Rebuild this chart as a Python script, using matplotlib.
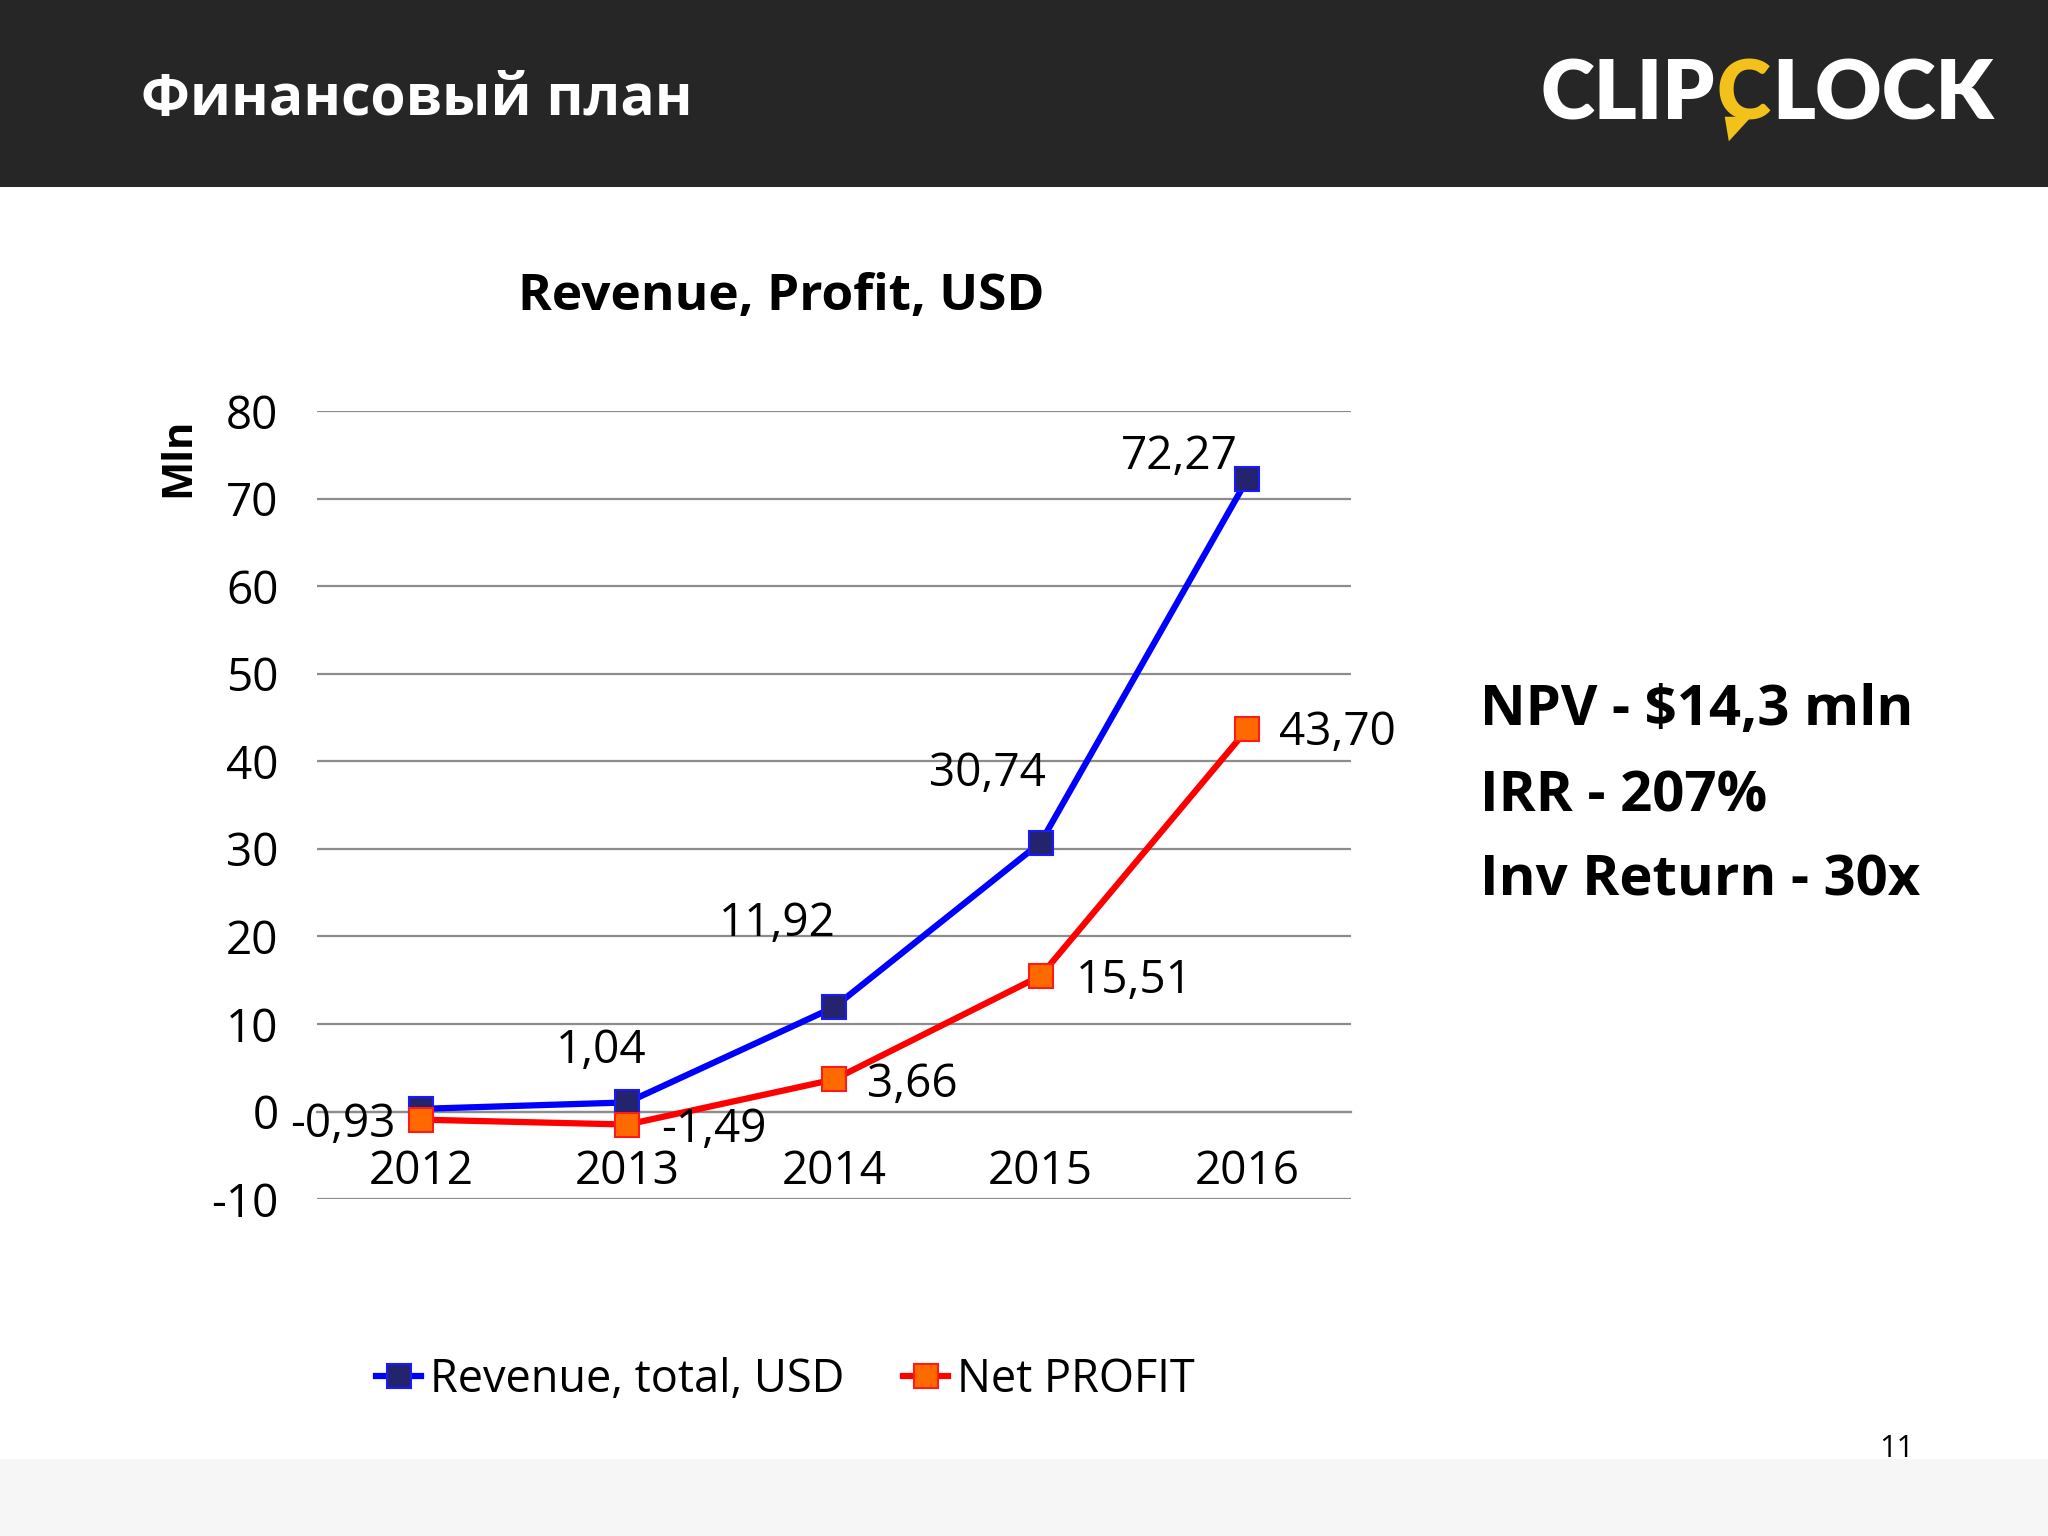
import numpy as np
import matplotlib.pyplot as plt
from matplotlib.patches import Rectangle, Polygon

years = ["2012", "2013", "2014", "2015", "2016"]
revenue = [0.3, 1.04, 11.92, 30.74, 72.27]
profit = [-0.93, -1.49, 3.66, 15.51, 43.70]
yticks = [-10, 0, 10, 20, 30, 40, 50, 60, 70, 80]
metrics = ["NPV - $14,3 mln", "IRR - 207%", "Inv Return - 30x"]

FONT = ["Open Sans", "DejaVu Sans"]
plt.rcParams['font.family'] = FONT
plt.rcParams['axes.unicode_minus'] = False

fig = plt.figure(figsize=(20.48, 15.36), dpi=100)
fig.patch.set_facecolor("white")

# header bar and bottom strip
fig.patches.append(Rectangle((0, 1 - 0.1216), 1, 0.1216, transform=fig.transFigure,
                             facecolor="#262626", edgecolor="none", zorder=0))
fig.patches.append(Rectangle((0, 0), 1, 0.050, transform=fig.transFigure,
                             facecolor="#f6f6f6", edgecolor="none", zorder=0))

fig.text(0.0689, 0.925, "Финансовый план", color="white", fontsize=41,
         fontweight="bold", va="baseline", ha="left")

# logo, drawn as text pieces
renderer = fig.canvas.get_renderer()
x0 = 0.752
logo_y = 0.922
pieces = [("CLIP", "white"), ("C", "#f2c21b"), ("LOCK", "white")]
x = x0
for txt, col in pieces:
    t = fig.text(x, logo_y, txt, color=col, fontsize=59, fontweight="heavy",
                 family=["Lato", "DejaVu Sans"], va="baseline", ha="left")
    bb = t.get_window_extent(renderer).transformed(fig.transFigure.inverted())
    if col != "white":
        cx = bb.x0
        fig.patches.append(Polygon([(cx + 0.004, logo_y + 0.002), (cx + 0.017, logo_y + 0.002),
                                    (cx + 0.006, logo_y - 0.014)], closed=True,
                                   transform=fig.transFigure, facecolor=col, edgecolor="none"))
    x = bb.x1 + 0.001

# chart
ax = fig.add_axes([0.155, 0.2194, 0.5045, 0.5127])
xs = np.arange(len(years))
ax.plot(xs, revenue, color="#0000ff", lw=4.5, marker="s", markersize=17,
        markerfacecolor="#23236e", markeredgecolor="#1a1aff", markeredgewidth=1.5,
        label="Revenue, total, USD", zorder=3)
ax.plot(xs, profit, color="#ff0000", lw=4.5, marker="s", markersize=17,
        markerfacecolor="#ff6a00", markeredgecolor="#ff1a1a", markeredgewidth=1.5,
        label="Net PROFIT", zorder=4)

ax.set_xlim(-0.5, 4.5)
ax.set_ylim(-10, 80)
ax.set_yticks(yticks)
ax.yaxis.grid(True, color="#8c8c8c", lw=1.6)
ax.set_axisbelow(True)
for s in ["left", "right", "top"]:
    ax.spines[s].set_visible(False)
ax.spines["bottom"].set_position(("data", 0))
ax.spines["bottom"].set_color("#8c8c8c")
ax.spines["bottom"].set_linewidth(1.6)
ax.set_xticks(xs)
ax.set_xticklabels(years)
ax.tick_params(axis="x", length=0, pad=27, labelsize=33)
ax.tick_params(axis="y", length=0, pad=28, labelsize=33)

def fmt(v):
    return f"{v:.2f}".replace(".", ",")

rev_off = [None, (-19, 37), (-41, 60), (-38, 49), (-49, 16)]
for i, v in enumerate(revenue):
    if rev_off[i] is None:
        continue
    ax.annotate(fmt(v), (xs[i], v), xytext=rev_off[i], textcoords="offset points",
                ha="center", va="center", fontsize=33, zorder=5)

prof_off = [(-18, -4, "right"), (24, -4, "left"), (24, -4, "left"), (25, -4, "left"), (23, -3, "left")]
for i, v in enumerate(profit):
    dx, dy, ha = prof_off[i]
    ax.annotate(fmt(v), (xs[i], v), xytext=(dx, dy), textcoords="offset points",
                ha=ha, va="center", fontsize=33, zorder=5)

fig.text(0.3814, 0.7985, "Revenue, Profit, USD", fontsize=37, fontweight="bold",
         ha="center", va="baseline")
fig.text(0.0874, 0.7024, "Mln", fontsize=30, fontweight="bold", rotation=90,
         ha="center", va="center")

fig.legend(loc="center", bbox_to_anchor=(0.3836, 0.1015), ncol=2, frameon=False,
           fontsize=32.5, handlelength=1.0, handletextpad=0.2, columnspacing=1.3)

for txt, yb in zip(metrics, [0.528, 0.472, 0.4167]):
    fig.text(0.7226, yb, txt, fontsize=40.5, fontweight="bold", ha="left", va="baseline")

fig.text(0.926, 0.0565, "11", fontsize=22, ha="center", va="center")

fig.savefig("out.png", dpi=100)
